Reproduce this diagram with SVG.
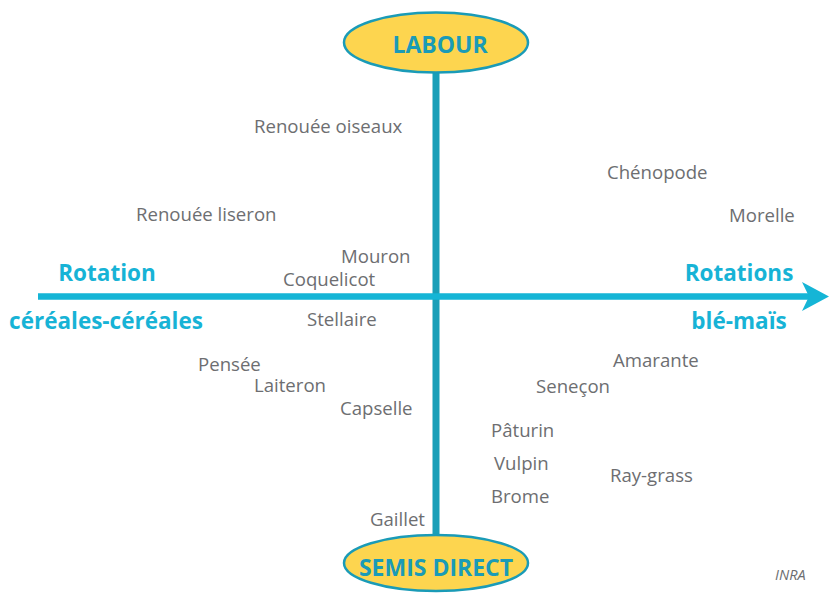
<svg xmlns="http://www.w3.org/2000/svg" width="829" height="593" viewBox="0 0 829 593">
  <style>
    .weed { font-family: "Open Sans", "Liberation Sans", sans-serif; font-size: 18.6px; fill: #6d6e71; }
    .axis { font-family: "Open Sans", "Liberation Sans", sans-serif; font-size: 22.5px; font-weight: bold; fill: #17b3d6; }
    .pole { font-family: "Open Sans", "Liberation Sans", sans-serif; font-size: 23px; font-weight: bold; fill: #1a9bb7; text-anchor: middle; }
    .ell { fill: #fdd54f; stroke: #1a9bb7; stroke-width: 2.5; }
  </style>
  <rect width="829" height="593" fill="#ffffff"/>

  <!-- axes -->
  <g id="connectors">
    <line x1="436" y1="70" x2="436" y2="540" stroke="#1a9fb8" stroke-width="7"/>
    <line x1="38" y1="296.5" x2="812" y2="296.5" stroke="#15b5d6" stroke-width="6.5"/>
    <polygon points="802,282 829,296.5 802,311 809,296.5" fill="#15b5d6"/>
  </g>

  <g id="labour">
    <ellipse class="ell" cx="436" cy="42.5" rx="92" ry="30"/>
    <text class="pole" x="440" y="53">LABOUR</text>
  </g>

  <g id="semis-direct">
    <ellipse class="ell" cx="436" cy="563" rx="92" ry="28"/>
    <text class="pole" x="436" y="576">SEMIS DIRECT</text>
  </g>

  <g id="axis-labels">
    <text class="axis" x="107" y="281" text-anchor="middle">Rotation</text>
    <text class="axis" x="106" y="329" text-anchor="middle">céréales-céréales</text>
    <text class="axis" x="739" y="281" text-anchor="middle">Rotations</text>
    <text class="axis" x="739" y="329" text-anchor="middle">blé-maïs</text>
  </g>

  <g id="weeds">
    <text class="weed" x="254" y="133">Renouée oiseaux</text>
    <text class="weed" x="607" y="179">Chénopode</text>
    <text class="weed" x="136" y="221">Renouée liseron</text>
    <text class="weed" x="729" y="222">Morelle</text>
    <text class="weed" x="341" y="263">Mouron</text>
    <text class="weed" x="283" y="286">Coquelicot</text>
    <text class="weed" x="307" y="326">Stellaire</text>
    <text class="weed" x="198" y="371">Pensée</text>
    <text class="weed" x="613" y="367">Amarante</text>
    <text class="weed" x="254" y="392">Laiteron</text>
    <text class="weed" x="536" y="393">Seneçon</text>
    <text class="weed" x="340" y="415">Capselle</text>
    <text class="weed" x="491" y="437">Pâturin</text>
    <text class="weed" x="494" y="470">Vulpin</text>
    <text class="weed" x="610" y="482">Ray-grass</text>
    <text class="weed" x="491" y="503">Brome</text>
    <text class="weed" x="370" y="526">Gaillet</text>
  </g>

  <text x="775" y="580" font-family="'Open Sans', 'Liberation Sans', sans-serif" font-size="14.5" font-style="italic" fill="#6d6e71">INRA</text>
</svg>
